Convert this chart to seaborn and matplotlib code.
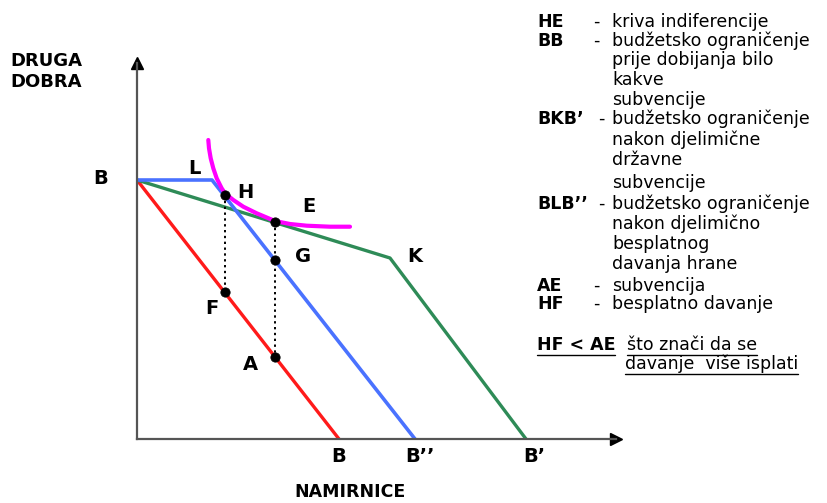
import matplotlib
matplotlib.use("Agg")
import matplotlib.pyplot as plt
from matplotlib.lines import Line2D
import seaborn as sns

# Budget lines (x = namirnice, y = druga dobra)
bb_x = [0.0, 20.2]            # BB   - before any subsidy
bb_y = [25.9, 0.0]
blb_x = [0.0, 7.5, 27.8]      # BLB'' - partly free food
blb_y = [25.9, 25.9, 0.0]
bkb_x = [0.0, 25.3, 38.9]     # BKB'  - partial state subsidy
bkb_y = [25.9, 18.1, 0.0]

# Indifference curve HE
he_x = [7.13, 7.2, 7.37, 7.63, 7.97, 8.47, 8.8, 9.63, 10.63, 11.97,
        13.8, 15.3, 16.97, 19.3, 21.3]
he_y = [29.9, 29.07, 28.07, 27.07, 26.07, 25.07, 24.57, 23.9, 23.23, 22.57,
        21.8, 21.5, 21.33, 21.23, 21.23]

# Marked points
pt_names = ["H", "E", "G", "F", "A"]
pt_x = [8.8, 13.8, 13.8, 8.8, 13.8]
pt_y = [24.4, 21.7, 17.9, 14.7, 8.2]

legend_lines = [
    ("HE", "-", "kriva indiferencije"),
    ("BB", "-", "budžetsko ograničenje"),
    ("", "", "prije dobijanja bilo"),
    ("", "", "kakve"),
    ("", "", "subvencije"),
    ("BKB’", "-", "budžetsko ograničenje"),
    ("", "", "nakon djelimične"),
    ("", "", "državne"),
    ("", "", "subvencije"),
    ("BLB’’", "-", "budžetsko ograničenje"),
    ("", "", "nakon djelimično"),
    ("", "", "besplatnog"),
    ("", "", "davanja hrane"),
    ("AE", "-", "subvencija"),
    ("HF", "-", "besplatno davanje"),
]

sns.set_theme(style="white")
plt.rcParams["font.family"] = ["DejaVu Sans"]
plt.rcParams["text.color"] = "black"

W, H = 828, 503
fig = plt.figure(figsize=(W / 100, H / 100), dpi=100)
fig.patch.set_facecolor("white")

ax_left, ax_right, ax_top, ax_bot = 137, 616, 63, 439
ax = fig.add_axes([ax_left / W, 1 - ax_bot / H,
                   (ax_right - ax_left) / W, (ax_bot - ax_top) / H])
ax.set_xlim(0, (ax_right - ax_left) / 10)
ax.set_ylim(0, (ax_bot - ax_top) / 10)
ax.set_facecolor("white")
for s in ("top", "right"):
    ax.spines[s].set_visible(False)
for s in ("left", "bottom"):
    ax.spines[s].set_color("#555555")
    ax.spines[s].set_linewidth(1.6)
ax.set_xticks([])
ax.set_yticks([])
ax.set_xlabel("")
ax.set_ylabel("")

# arrow heads on the axes
ax.plot(1, 0, marker=">", color="black", ms=8, transform=ax.transAxes, clip_on=False)
ax.plot(0, 1, marker="^", color="black", ms=8, transform=ax.transAxes, clip_on=False)

red, blue, green, magenta = "#ff1a1a", "#4a72ff", "#2e8b57", "#ff00ff"

sns.lineplot(x=bb_x, y=bb_y, sort=False, estimator=None, color=red, lw=2.4, ax=ax)
sns.lineplot(x=bkb_x, y=bkb_y, sort=False, estimator=None, color=green, lw=2.4, ax=ax)
sns.lineplot(x=blb_x, y=blb_y, sort=False, estimator=None, color=blue, lw=2.6, ax=ax)
sns.lineplot(x=he_x, y=he_y, sort=False, estimator=None, color=magenta, lw=3.0, ax=ax)
for line in ax.lines:
    line.set_solid_capstyle("round")
    line.set_solid_joinstyle("round")

# dotted verticals H-F and E-A
ax.plot([pt_x[0], pt_x[3]], [pt_y[0], pt_y[3]], ls=(0, (1.2, 1.8)), color="black", lw=1.4)
ax.plot([pt_x[1], pt_x[4]], [pt_y[1], pt_y[4]], ls=(0, (1.2, 1.8)), color="black", lw=1.4)

sns.scatterplot(x=pt_x, y=pt_y, color="black", s=45, edgecolor="black", zorder=6, ax=ax)

lab = dict(fontsize=14, fontweight="bold", ha="center", va="center",
           textcoords="offset pixels", annotation_clip=False, color="black")
offsets = {"H": (20, 3), "E": (34, 15), "G": (28, 3), "F": (-13, -16), "A": (-25, -8)}
for n, x, y in zip(pt_names, pt_x, pt_y):
    ax.annotate(n, (x, y), xytext=offsets[n], **lab)
ax.annotate("L", (blb_x[1], blb_y[1]), xytext=(-18, 12), **lab)
ax.annotate("K", (bkb_x[1], bkb_y[1]), xytext=(25, 1), **lab)
ax.annotate("B", (bb_x[0], bb_y[0]), xytext=(-36, 1), **lab)
ax.annotate("B", (bb_x[1], bb_y[1]), xytext=(0, -18), **lab)
ax.annotate("B’’", (blb_x[2], blb_y[2]), xytext=(5, -18), **lab)
ax.annotate("B’", (bkb_x[2], bkb_y[2]), xytext=(8, -18), **lab)

# axis titles
fig.text(10 / W, 1 - 66 / H, "DRUGA", fontsize=13, fontweight="bold", va="baseline")
fig.text(10 / W, 1 - 87 / H, "DOBRA", fontsize=13, fontweight="bold", va="baseline")
fig.text(350 / W, 1 - 497 / H, "NAMIRNICE", fontsize=12.5, fontweight="bold",
         ha="center", va="baseline")

# explanation block
baselines = [27, 46, 65, 85, 105, 124, 145, 165, 188, 209, 229, 249, 269, 291, 309]
for (key, dash, txt), yb in zip(legend_lines, baselines):
    yf = 1 - yb / H
    if key:
        fig.text(537 / W, yf, key, fontsize=12.5, fontweight="bold", va="baseline")
        dx = 598 if len(key) > 2 else 593
        fig.text(dx / W, yf, dash, fontsize=12.5, va="baseline")
    fig.text(612 / W, yf, txt, fontsize=12.5, va="baseline")

t1 = fig.text(537 / W, 1 - 350 / H, "HF < AE", fontsize=12.5, fontweight="bold", va="baseline")
t2 = fig.text(627 / W, 1 - 350 / H, "što znači da se", fontsize=12.5, va="baseline")
t3 = fig.text(625 / W, 1 - 369 / H, "davanje  više isplati", fontsize=12.5, va="baseline")

fig.canvas.draw()
r = fig.canvas.get_renderer()
for t, yb in ((t1, 355), (t2, 355), (t3, 374)):
    bb = t.get_window_extent(r)
    yy = 1 - yb / H
    fig.add_artist(Line2D([bb.x0 / W, bb.x1 / W], [yy, yy], color="black", lw=1.0,
                          transform=fig.transFigure))

fig.savefig("out.png", dpi=100, facecolor="white")
